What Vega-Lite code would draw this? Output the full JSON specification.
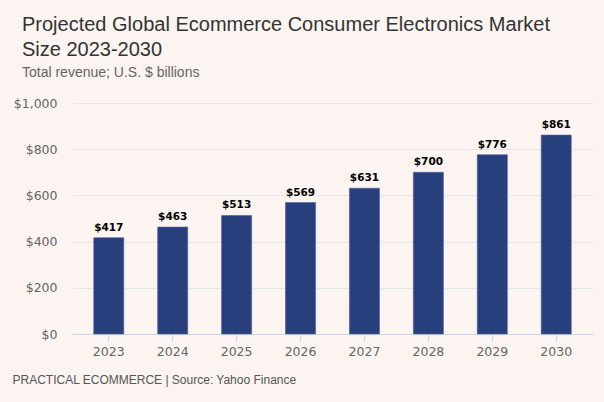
{
  "$schema": "https://vega.github.io/schema/vega-lite/v6.json",
  "width": 521,
  "height": 231,
  "autosize": {"type": "none"},
  "padding": {"left": 72, "top": 103, "right": 11, "bottom": 68},
  "background": "#fbf4f1",
  "title": {
    "text": ["Projected Global Ecommerce Consumer Electronics Market", "Size 2023-2030"],
    "subtitle": "Total revenue; U.S. $ billions",
    "anchor": "start",
    "frame": "group",
    "dx": -50,
    "offset": 17,
    "font": "Liberation Sans",
    "fontSize": 20,
    "fontWeight": "normal",
    "color": "#333333",
    "lineHeight": 25,
    "subtitleFont": "Liberation Sans",
    "subtitleFontSize": 14,
    "subtitleColor": "#666666",
    "subtitlePadding": 6
  },
  "data": {
    "values": [
      {"year": "2023", "revenue": 417},
      {"year": "2024", "revenue": 463},
      {"year": "2025", "revenue": 513},
      {"year": "2026", "revenue": 569},
      {"year": "2027", "revenue": 631},
      {"year": "2028", "revenue": 700},
      {"year": "2029", "revenue": 776},
      {"year": "2030", "revenue": 861}
    ]
  },
  "encoding": {
    "x": {
      "field": "year",
      "type": "nominal",
      "sort": null,
      "scale": {"paddingInner": 0.53, "paddingOuter": 0.34},
      "axis": {
        "title": "PRACTICAL ECOMMERCE | Source: Yahoo Finance",
        "titleX": -60,
        "titleY": 45,
        "titleAlign": "left",
        "titleAnchor": "start",
        "titleBaseline": "middle",
        "titleFont": "Liberation Sans",
        "titleFontSize": 12,
        "titleFontWeight": "normal",
        "titleColor": "#555555",
        "labelAngle": 0,
        "labelFont": "DejaVu Sans",
        "labelFontSize": 12.5,
        "labelColor": "#666666",
        "labelPadding": 4,
        "domainColor": "#ccd6eb",
        "tickColor": "#ccd6eb",
        "tickSize": 7,
        "grid": false
      }
    },
    "y": {
      "field": "revenue",
      "type": "quantitative",
      "scale": {"domain": [0, 1000], "nice": false},
      "axis": {
        "title": null,
        "values": [0, 200, 400, 600, 800, 1000],
        "format": "$,.0f",
        "labelFont": "DejaVu Sans",
        "labelFontSize": 12.5,
        "labelColor": "#666666",
        "labelPadding": 15,
        "domain": false,
        "ticks": false,
        "gridColor": "#e6e6e6",
        "gridWidth": 1
      }
    }
  },
  "layer": [
    {
      "mark": {"type": "bar", "color": "#283f7e", "stroke": "#4d5e96", "strokeWidth": 0.6}
    },
    {
      "mark": {"type": "text", "baseline": "bottom", "dy": -5, "font": "DejaVu Sans", "fontSize": 10.5, "fontWeight": "bold", "color": "#000000"},
      "encoding": {
        "text": {"field": "revenue", "type": "quantitative", "format": "$,.0f"}
      }
    }
  ],
  "config": {
    "view": {"stroke": null}
  }
}
